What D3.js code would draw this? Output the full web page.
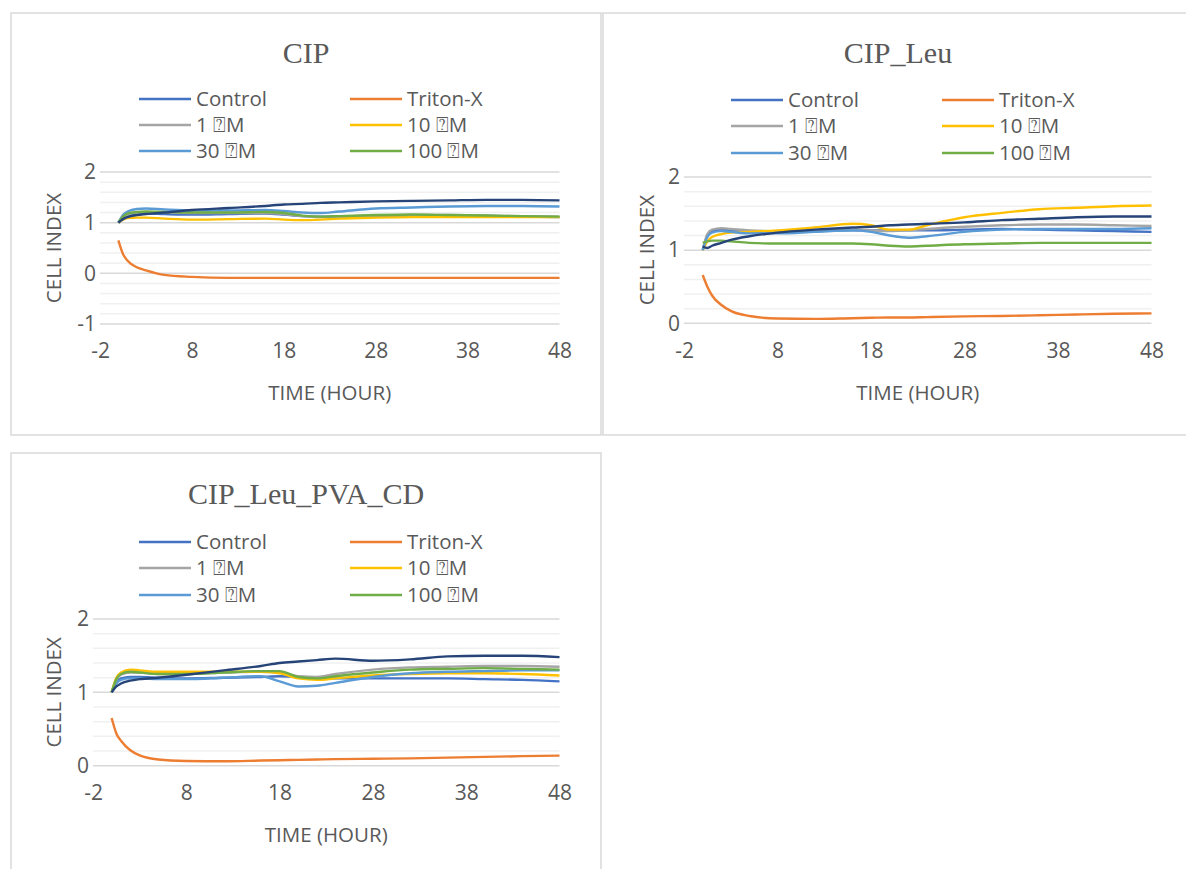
<!DOCTYPE html>
<html>
<head>
<meta charset="utf-8">
<script src="https://cdn.jsdelivr.net/npm/d3@7"></script>
<style>
  body { margin: 0; background: #fff; }
  text { font-family: "Open Sans", sans-serif; fill: #595959; }
  .title { font-family: "Liberation Serif", "Times New Roman", serif; }
</style>
</head>
<body>
<svg id="chart"></svg>
<script>
var width = 1186;
var height = 869;

// sampling times (hours) shared by every series
var hours = [0, 0.5, 1, 2, 3, 5, 8, 12, 16, 18, 20, 22, 24, 28, 32, 36, 40, 44, 48];

var seriesNames = ["Control", "Triton-X", "1 \u2370M", "10 \u2370M", "30 \u2370M", "100 \u2370M", ""];
var seriesColors = ["#4472C4", "#ED7D31", "#A5A5A5", "#FFC000", "#5B9BD5", "#70AD47", "#264478"];

var xTicks = [-2, 8, 18, 28, 38, 48];

// CIP
var cipControl = [1.0, 1.08, 1.13, 1.17, 1.18, 1.17, 1.16, 1.17, 1.18, 1.16, 1.13, 1.12, 1.12, 1.13, 1.13, 1.13, 1.12, 1.12, 1.11];
var cipTriton  = [0.65, 0.38, 0.25, 0.12, 0.06, -0.03, -0.07, -0.09, -0.09, -0.09, -0.09, -0.09, -0.09, -0.09, -0.09, -0.09, -0.09, -0.09, -0.09];
var cip1       = [1.0, 1.10, 1.16, 1.20, 1.21, 1.20, 1.19, 1.19, 1.19, 1.17, 1.13, 1.11, 1.12, 1.14, 1.15, 1.15, 1.14, 1.13, 1.12];
var cip10      = [1.0, 1.06, 1.09, 1.10, 1.10, 1.08, 1.06, 1.07, 1.08, 1.06, 1.05, 1.06, 1.08, 1.10, 1.11, 1.11, 1.11, 1.11, 1.11];
var cip30      = [1.0, 1.15, 1.22, 1.27, 1.28, 1.26, 1.24, 1.24, 1.25, 1.23, 1.20, 1.19, 1.22, 1.28, 1.30, 1.32, 1.33, 1.33, 1.32];
var cip100     = [1.0, 1.12, 1.18, 1.21, 1.22, 1.21, 1.20, 1.20, 1.21, 1.19, 1.14, 1.12, 1.13, 1.15, 1.16, 1.15, 1.14, 1.13, 1.12];
var cipExtra   = [1.0, 1.07, 1.11, 1.15, 1.17, 1.20, 1.25, 1.29, 1.33, 1.36, 1.37, 1.39, 1.40, 1.42, 1.43, 1.44, 1.45, 1.45, 1.44];

// CIP_Leu
var leuControl = [1.0, 1.20, 1.26, 1.28, 1.27, 1.25, 1.24, 1.26, 1.27, 1.27, 1.27, 1.27, 1.27, 1.28, 1.29, 1.28, 1.27, 1.26, 1.25];
var leuTriton  = [0.66, 0.50, 0.38, 0.25, 0.17, 0.10, 0.065, 0.06, 0.07, 0.075, 0.08, 0.08, 0.085, 0.095, 0.10, 0.11, 0.12, 0.13, 0.135];
var leu1       = [1.0, 1.22, 1.28, 1.30, 1.29, 1.27, 1.26, 1.27, 1.28, 1.27, 1.26, 1.27, 1.29, 1.32, 1.34, 1.35, 1.35, 1.34, 1.33];
var leu10      = [1.0, 1.12, 1.18, 1.22, 1.24, 1.25, 1.27, 1.31, 1.36, 1.34, 1.28, 1.28, 1.34, 1.45, 1.51, 1.56, 1.58, 1.60, 1.61];
var leu30      = [1.0, 1.18, 1.24, 1.26, 1.25, 1.23, 1.23, 1.25, 1.27, 1.25, 1.20, 1.17, 1.19, 1.25, 1.28, 1.29, 1.29, 1.29, 1.30];
var leu100     = [1.10, 1.12, 1.13, 1.13, 1.12, 1.10, 1.09, 1.09, 1.09, 1.08, 1.06, 1.05, 1.06, 1.08, 1.09, 1.10, 1.10, 1.10, 1.10];
var leuExtra   = [1.05, 1.03, 1.06, 1.10, 1.14, 1.19, 1.24, 1.28, 1.31, 1.32, 1.34, 1.35, 1.36, 1.38, 1.41, 1.43, 1.45, 1.46, 1.46];

// CIP_Leu_PVA_CD
var pvaControl = [1.0, 1.14, 1.19, 1.21, 1.21, 1.20, 1.19, 1.20, 1.21, 1.22, 1.21, 1.20, 1.19, 1.19, 1.19, 1.19, 1.18, 1.17, 1.15];
var pvaTriton  = [0.65, 0.44, 0.34, 0.21, 0.14, 0.085, 0.065, 0.06, 0.07, 0.075, 0.08, 0.085, 0.09, 0.095, 0.10, 0.11, 0.12, 0.13, 0.138];
var pva1       = [1.0, 1.17, 1.24, 1.27, 1.27, 1.25, 1.25, 1.27, 1.28, 1.27, 1.22, 1.21, 1.25, 1.31, 1.34, 1.35, 1.36, 1.36, 1.35];
var pva10      = [1.0, 1.20, 1.27, 1.31, 1.30, 1.28, 1.28, 1.28, 1.28, 1.26, 1.19, 1.17, 1.19, 1.23, 1.25, 1.26, 1.26, 1.25, 1.23];
var pva30      = [1.0, 1.12, 1.17, 1.19, 1.19, 1.18, 1.18, 1.20, 1.22, 1.15, 1.08, 1.09, 1.13, 1.21, 1.26, 1.28, 1.29, 1.30, 1.30];
var pva100     = [1.0, 1.18, 1.25, 1.28, 1.27, 1.25, 1.25, 1.27, 1.29, 1.29, 1.21, 1.19, 1.22, 1.27, 1.31, 1.32, 1.33, 1.32, 1.31];
var pvaExtra   = [1.0, 1.08, 1.12, 1.16, 1.18, 1.20, 1.24, 1.30, 1.36, 1.40, 1.42, 1.44, 1.46, 1.43, 1.45, 1.49, 1.50, 1.50, 1.48];

var svg = d3.select("#chart")
  .attr("width", width)
  .attr("height", height)
  .style("background", "#fff");

// panel layout (positions only)
var panels = [
  { title: "CIP", box: [11, 13, 590, 422], yDomain: [-1, 2], yTicks: [-1, 0, 1, 2],
    xr: [100, 559.5], yr: [324, 172], titleY: 52, legY: [99, 125, 151], legX: [139, 350],
    xLabY: 355, xTitleY: 393, yTitleX: 54,
    values: [cipControl, cipTriton, cip1, cip10, cip30, cip100, cipExtra] },
  { title: "CIP_Leu", box: [603, 13, 590, 422], yDomain: [0, 2], yTicks: [0, 1, 2],
    xr: [684, 1151.5], yr: [323.3, 177], titleY: 52, legY: [100, 126, 153], legX: [731, 942],
    xLabY: 355, xTitleY: 393, yTitleX: 647,
    values: [leuControl, leuTriton, leu1, leu10, leu30, leu100, leuExtra] },
  { title: "CIP_Leu_PVA_CD", box: [11, 453, 590, 430], yDomain: [0, 2], yTicks: [0, 1, 2],
    xr: [93, 559.5], yr: [765.7, 619], titleY: 493, legY: [542, 568, 595], legX: [139, 350],
    xLabY: 797, xTitleY: 835, yTitleX: 54,
    values: [pvaControl, pvaTriton, pva1, pva10, pva30, pva100, pvaExtra] }
];

panels.forEach(drawPanel);

function drawPanel(p) {
  var g = svg.append("g");

  // chart border
  g.append("rect")
    .attr("x", p.box[0]).attr("y", p.box[1])
    .attr("width", p.box[2]).attr("height", p.box[3])
    .attr("fill", "#fff").attr("stroke", "#d9d9d9").attr("stroke-width", 1.5);

  var x = d3.scaleLinear().domain([-2, 48]).range(p.xr);
  var y = d3.scaleLinear().domain(p.yDomain).range(p.yr);

  // minor gridlines every 0.2
  var minor = d3.range(Math.round(p.yDomain[0] * 5), Math.round(p.yDomain[1] * 5) + 1)
    .map(function (k) { return k / 5; })
    .filter(function (v) { return Math.abs(v - Math.round(v)) > 1e-6; });
  g.selectAll(".minor").data(minor).enter().append("line")
    .attr("x1", p.xr[0]).attr("x2", p.xr[1])
    .attr("y1", d => y(d)).attr("y2", d => y(d))
    .attr("stroke", "#f0f0f0").attr("stroke-width", 1.5);

  // major gridlines
  g.selectAll(".major").data(p.yTicks).enter().append("line")
    .attr("x1", p.xr[0]).attr("x2", p.xr[1])
    .attr("y1", d => y(d)).attr("y2", d => y(d))
    .attr("stroke", "#d9d9d9").attr("stroke-width", 1.5);

  // plain hyphen for negatives, like the original
  var fmt = function (d) { return String(d); };

  // y axis labels
  var yAxis = d3.axisLeft(y).tickValues(p.yTicks).tickSize(0).tickPadding(0).tickFormat(fmt);
  var ya = g.append("g").attr("transform", "translate(" + (p.xr[0] - 4) + ",0)").call(yAxis);
  ya.select(".domain").remove();
  ya.selectAll("text").attr("font-size", 21).attr("font-family", "Open Sans").attr("fill", "#595959");

  // x axis labels
  var xAxis = d3.axisBottom(x).tickValues(xTicks).tickSize(0).tickPadding(0).tickFormat(fmt);
  var xa = g.append("g").attr("transform", "translate(0," + (p.xLabY - 12) + ")").call(xAxis);
  xa.select(".domain").remove();
  xa.selectAll("text").attr("font-size", 21).attr("font-family", "Open Sans").attr("fill", "#595959");

  // axis titles
  g.append("text")
    .attr("x", (p.xr[0] + p.xr[1]) / 2).attr("y", p.xTitleY).attr("dy", "0.35em")
    .attr("text-anchor", "middle").attr("font-size", 20.5)
    .text("TIME (HOUR)");
  g.append("text")
    .attr("transform", "translate(" + p.yTitleX + "," + ((p.yr[0] + p.yr[1]) / 2) + ") rotate(-90)")
    .attr("dy", "0.35em").attr("text-anchor", "middle").attr("font-size", 20.5)
    .text("CELL INDEX");

  // title
  g.append("text").attr("class", "title")
    .attr("x", p.box[0] + p.box[2] / 2).attr("y", p.titleY).attr("dy", "0.35em")
    .attr("text-anchor", "middle").attr("font-size", 30)
    .text(p.title);

  // series lines
  var line = d3.line()
    .x(d => x(d[0]))
    .y(d => y(d[1]))
    .curve(d3.curveMonotoneX);

  p.values.forEach(function (vals, i) {
    var pts = hours.map(function (h, k) { return [h, vals[k]]; });
    g.append("path")
      .datum(pts)
      .attr("d", line)
      .attr("fill", "none")
      .attr("stroke", seriesColors[i])
      .attr("stroke-width", 2.4)
      .attr("stroke-linejoin", "round");
  });

  // legend (6 named series in 2 columns)
  for (var i = 0; i < 6; i++) {
    var col = i % 2, row = Math.floor(i / 2);
    var lx = p.legX[col], ly = p.legY[row];
    g.append("line")
      .attr("x1", lx).attr("x2", lx + 52)
      .attr("y1", ly).attr("y2", ly)
      .attr("stroke", seriesColors[i]).attr("stroke-width", 2.5);
    g.append("text")
      .attr("x", lx + 57).attr("y", ly).attr("dy", "0.35em")
      .attr("font-size", 20.5)
      .text(seriesNames[i]);
  }
}
</script>
</body>
</html>
